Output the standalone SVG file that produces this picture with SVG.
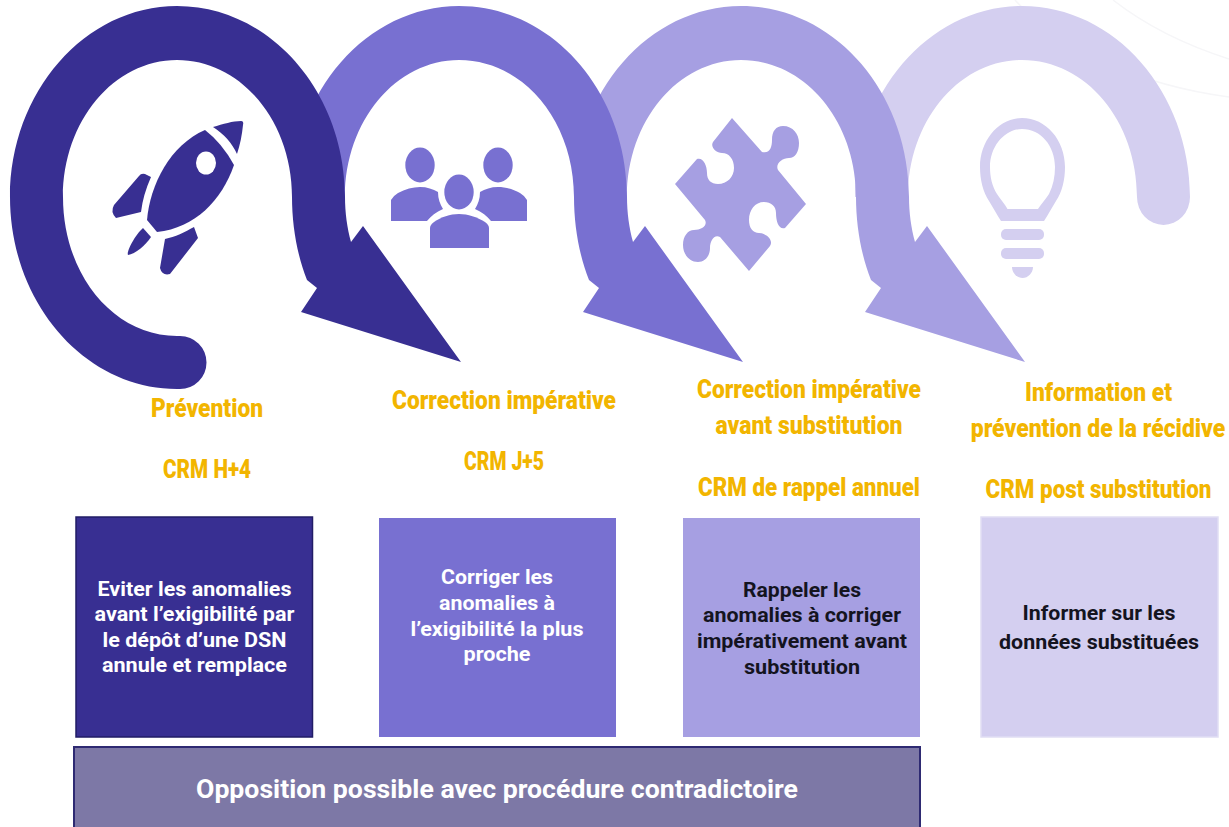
<svg xmlns="http://www.w3.org/2000/svg" xmlns:xlink="http://www.w3.org/1999/xlink" width="1229" height="827" viewBox="0 0 1229 827">
<style>
.h{font-family:"Roboto","Liberation Sans",sans-serif;font-weight:900;font-size:25px;fill:#F2B500;text-anchor:middle}
.b{font-family:"Roboto","Liberation Sans",sans-serif;font-weight:700;font-size:20px;text-anchor:middle}
.w{fill:#fff}.k{fill:#14141F}
.c1{fill:#382F92}.c2{fill:#7870D1}.c3{fill:#A69FE2}.c4{fill:#D4CFF0}
</style>
<defs>
<path id="arrow" d="M10 197C10 92 85 6 177 6C270 6 345 92 345 197C345 212 347 228 351 242L363 226L461 362L301 312L317 288L307 280C297 255 292 225 292 197C292 121 241 60 177 60C114 60 63 121 63 197Z"/>
</defs>
<rect width="1229" height="827" fill="#fff"/>
<g id="background-arcs" fill="none" stroke="#F6F6F8" stroke-width="1.5">
<path d="M1015 0C1060 50 1140 85 1229 97"/>
<path d="M1113 0C1145 25 1185 45 1229 59"/>
</g>
<g id="connectors">
<path class="c4" d="M855 197C855 92 930 6 1022 6C1115 6 1190 92 1190 197A26.5 28 0 0 1 1137 197C1137 121 1086 60 1022 60C959 60 908 121 908 197Z"/>
<use xlink:href="#arrow" href="#arrow" class="c3" x="564"/>
<use xlink:href="#arrow" href="#arrow" class="c2" x="282"/>
<path class="c1" d="M177 389C85 389 10 303 10 197C10 92 85 6 177 6C270 6 345 92 345 197C345 212 347 228 351 242L363 226L461 362L301 312L317 288L307 280C297 255 292 225 292 197C292 121 241 60 177 60C114 60 63 121 63 197C63 275 114 336 177 336L180 336A26.5 26.5 0 0 1 180 389Z"/>
</g>
<g id="icon-rocket" class="c1">
<path d="M205 130Q222 143 234 165C222 200 195 228 157 232L147 220C150 185 170 145 205 130Z"/>
<ellipse cx="206" cy="163" rx="10" ry="11.5" fill="#fff"/>
<path d="M213 127C223 124 233 121 241 121Q244 121 243 125C242 135 240 145 237 154C232 143 224 134 213 127Z"/>
<path d="M151 177L145 174Q141 173 139 176L114 205Q110 212 116 218L141 212Q143 195 151 177Z"/>
<path d="M143 228L151 237C146 245 135 254 128 255C126 252 135 235 143 228Z"/>
<path d="M165 239C175 237 185 232 194 227L198 238L170 274Q162 276 160 268Z"/>
</g>
<g id="icon-people" class="c2">
<ellipse cx="420" cy="165" rx="14.700" ry="17.500"/>
<path d="M391 221V200Q393 196 398 193C405 189 413 187 420 187C427 187 433 189 438 192C438 199 440 204 443 209C436 212 431 216 427 221Z"/>
<ellipse cx="498" cy="165" rx="14.700" ry="17.500"/>
<path d="M527 221V200Q525 196 520 193C513 189 505 187 498 187C491 187 485 189 480 192C480 199 478 204 475 209C482 212 487 216 491 221Z"/>
<ellipse cx="459" cy="192" rx="14.700" ry="17.500"/>
<path d="M430 248V228Q430 225 434 222C441 217 450 214 459 214C468 214 477 217 485 222Q489 225 489 228V248Z"/>
</g>
<g id="icon-puzzle" class="c3">
<path d="M732 118L762 152C770 154 772 147 772 140C772 131 776 126 783 126C793 126 799 134 799 143C799 152 795 158 789 158C782 158 775 164 778 170L806 204L785 228C779 230 776 222 776 213C776 206 771 202 764 202C755 202 749 210 749 220C749 228 753 233 759 233C766 233 774 240 770 246L749 271L720 237C714 234 710 241 710 248C710 256 705 262 698 262C689 262 683 254 683 245C683 236 688 230 694 230C701 230 708 226 705 220L675 184L697 159C703 157 707 165 707 173C707 180 711 184 718 184C727 184 734 177 734 168C734 159 729 153 722 153C716 153 710 147 713 142Z"/>
</g>
<g id="icon-bulb" class="c4">
<path fill-rule="evenodd" d="M1022 118C1046 118 1065 140 1065 167C1065 180 1062 192 1056 201C1051 209 1048 215 1044 221H1001C997 215 994 209 989 201C983 192 980 180 980 167C980 140 999 118 1022 118ZM1022 129C1005 129 990 146 990 167C990 177 992 186 997 194C1001 200 1005 204 1007.500 209H1038C1041 204 1045 200 1049 194C1053 186 1055 177 1055 167C1055 146 1041 129 1022 129Z"/>
<rect x="1001" y="229" width="43" height="11" rx="5"/>
<rect x="1001" y="248" width="43" height="11" rx="5"/>
<path d="M1012 267H1033C1033 273 1028 278 1022.500 278C1017 278 1012 273 1012 267Z"/>
</g>
<g id="node-prevention">
<text class="h" x="207" y="417" textLength="112" lengthAdjust="spacingAndGlyphs">Prévention</text>
<text class="h" x="207" y="478" textLength="88" lengthAdjust="spacingAndGlyphs">CRM H+4</text>
<rect x="76" y="517" width="236.500" height="220" class="c1" stroke="#211C66" stroke-width="1.500"/>
<text class="b w" x="194.500" y="596" textLength="194" lengthAdjust="spacingAndGlyphs">Eviter les anomalies</text>
<text class="b w" x="194.500" y="621" textLength="200" lengthAdjust="spacingAndGlyphs">avant l’exigibilité par</text>
<text class="b w" x="194.500" y="647" textLength="184" lengthAdjust="spacingAndGlyphs">le dépôt d’une DSN</text>
<text class="b w" x="194.500" y="672" textLength="185" lengthAdjust="spacingAndGlyphs">annule et remplace</text>
</g>
<g id="node-correction">
<text class="h" x="504" y="409" textLength="224" lengthAdjust="spacingAndGlyphs">Correction impérative</text>
<text class="h" x="504" y="470" textLength="80" lengthAdjust="spacingAndGlyphs">CRM J+5</text>
<rect x="379" y="518" width="237" height="219" class="c2"/>
<text class="b w" x="497" y="584" textLength="112" lengthAdjust="spacingAndGlyphs">Corriger les</text>
<text class="b w" x="497" y="610" textLength="116" lengthAdjust="spacingAndGlyphs">anomalies à</text>
<text class="b w" x="497" y="636" textLength="173" lengthAdjust="spacingAndGlyphs">l’exigibilité la plus</text>
<text class="b w" x="497" y="661" textLength="67" lengthAdjust="spacingAndGlyphs">proche</text>
</g>
<g id="node-correction-substitution">
<text class="h" x="809" y="398" textLength="224" lengthAdjust="spacingAndGlyphs">Correction impérative</text>
<text class="h" x="809" y="434" textLength="187" lengthAdjust="spacingAndGlyphs">avant substitution</text>
<text class="h" x="809" y="496" textLength="222" lengthAdjust="spacingAndGlyphs">CRM de rappel annuel</text>
<rect x="683" y="518" width="237" height="219" class="c3"/>
<text class="b k" x="802" y="597" textLength="118" lengthAdjust="spacingAndGlyphs">Rappeler les</text>
<text class="b k" x="802" y="622" textLength="198" lengthAdjust="spacingAndGlyphs">anomalies à corriger</text>
<text class="b k" x="802" y="648" textLength="210" lengthAdjust="spacingAndGlyphs">impérativement avant</text>
<text class="b k" x="802" y="674" textLength="116" lengthAdjust="spacingAndGlyphs">substitution</text>
</g>
<g id="node-information">
<text class="h" x="1098.500" y="401" textLength="147" lengthAdjust="spacingAndGlyphs">Information et</text>
<text class="h" transform="translate(1098 437) scale(.918 1)">prévention de la récidive</text>
<text class="h" transform="translate(1098.500 498) scale(.896 1)">CRM post substitution</text>
<rect x="981" y="517" width="237" height="220" class="c4" stroke="#E1DEF4" stroke-width="1.500"/>
<text class="b k" x="1099" y="620" textLength="153" lengthAdjust="spacingAndGlyphs">Informer sur les</text>
<text class="b k" x="1099" y="649" textLength="200" lengthAdjust="spacingAndGlyphs">données substituées</text>
</g>
<g id="node-opposition">
<rect x="74" y="747" width="846" height="90" fill="#7D78A6" stroke="#2E2A72" stroke-width="2"/>
<text class="b w" x="497" y="798" style="font-size:25px" textLength="602" lengthAdjust="spacingAndGlyphs">Opposition possible avec procédure contradictoire</text>
</g>
</svg>
